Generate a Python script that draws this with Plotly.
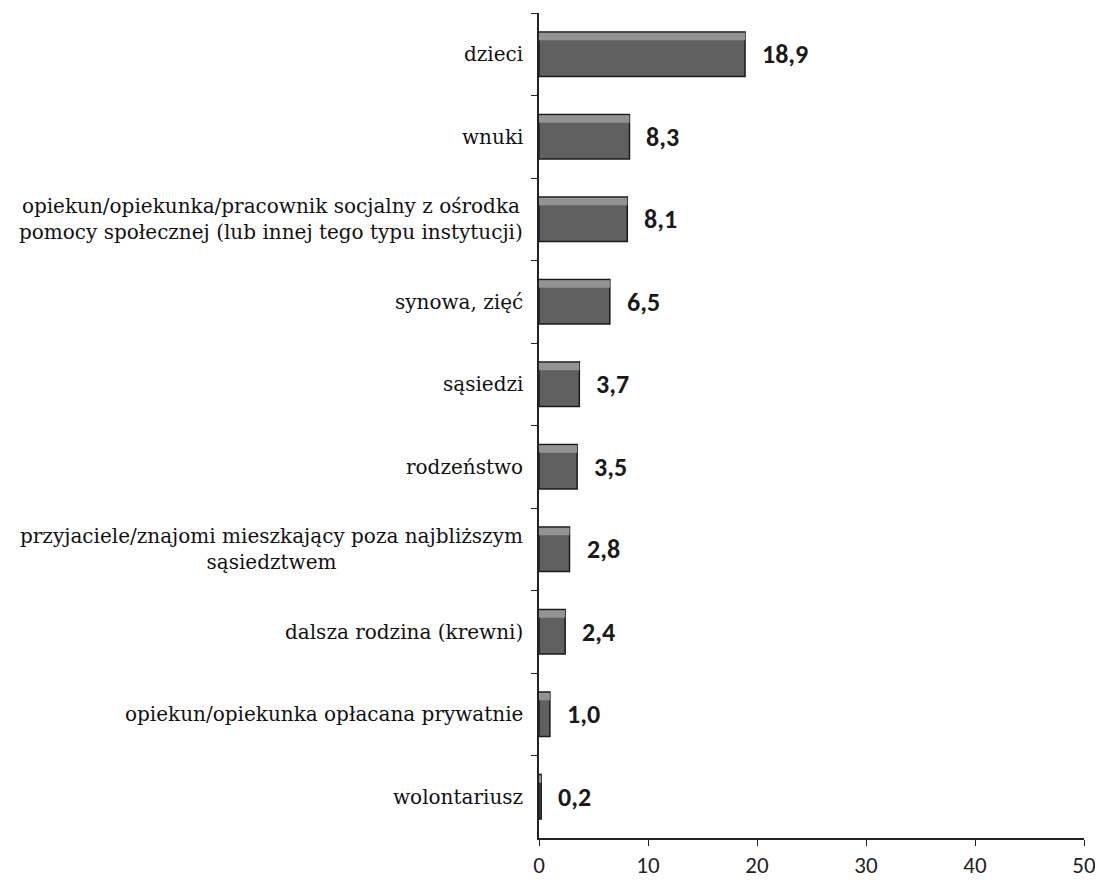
import plotly.graph_objects as go

categories = [
    "dzieci",
    "wnuki",
    "opiekun/opiekunka/pracownik socjalny z ośrodka<br>pomocy społecznej (lub innej tego typu instytucji)",
    "synowa, zięć",
    "sąsiedzi",
    "rodzeństwo",
    "przyjaciele/znajomi mieszkający poza najbliższym<br>sąsiedztwem",
    "dalsza rodzina (krewni)",
    "opiekun/opiekunka opłacana prywatnie",
    "wolontariusz",
]
values = [18.9, 8.3, 8.1, 6.5, 3.7, 3.5, 2.8, 2.4, 1.0, 0.2]
x_ticks = [0, 10, 20, 30, 40, 50]

cat_ids = [f"c{i}" for i in range(len(categories))]

SERIF = "DejaVu Serif"
SANS = "Carlito"

fig = go.Figure()
# main bar body
fig.add_trace(go.Bar(
    x=values, y=cat_ids, orientation="h", width=0.54, offset=-0.27,
    marker=dict(color="#606060", line=dict(color="#1a1a1a", width=1.5)),
    hoverinfo="skip",
))
# lighter top strip (3D look)
fig.add_trace(go.Bar(
    x=values, y=cat_ids, orientation="h", width=0.09, offset=-0.26,
    marker=dict(color="#939393", line=dict(width=0)),
    hoverinfo="skip",
))

annotations = []
for cid, lab in zip(cat_ids, categories):
    annotations.append(dict(
        x=0, xref="paper", y=cid, yref="y", text=lab, showarrow=False,
        xanchor="right", yanchor="middle", align="center", xshift=-14,
        font=dict(family=SERIF, size=20, color="#111"),
    ))
for cid, v in zip(cat_ids, values):
    annotations.append(dict(
        x=v, xref="x", y=cid, yref="y", text="<b>" + f"{v:.1f}".replace(".", ",") + "</b>",
        showarrow=False, xanchor="left", yanchor="middle", xshift=15,
        font=dict(family=SANS, size=26, color="#1a1a1a"),
    ))

fig.update_layout(
    template="none",
    font=dict(family=SERIF, size=20, color="#111"),
    width=1090, height=873,
    margin=dict(l=531, r=14, t=5, b=43, pad=0),
    paper_bgcolor="white", plot_bgcolor="white",
    showlegend=False, barmode="overlay",
    annotations=annotations,
    xaxis=dict(
        range=[0, 50], tickvals=x_ticks, ticktext=[str(t) for t in x_ticks],
        showline=True, linecolor="#222", linewidth=1.5, ticks="outside", ticklen=6,
        tickcolor="#222", showgrid=False, zeroline=False, automargin=False,
        tickfont=dict(family=SANS, size=23, color="#222"),
    ),
    yaxis=dict(
        categoryorder="array", categoryarray=cat_ids, autorange="reversed",
        showticklabels=False, showline=True, linecolor="#222", linewidth=1.5,
        ticks="outside", ticklen=6, tickcolor="#222", tickson="boundaries",
        showgrid=False, zeroline=False, automargin=False,
    ),
)

fig.write_html("out.html")
